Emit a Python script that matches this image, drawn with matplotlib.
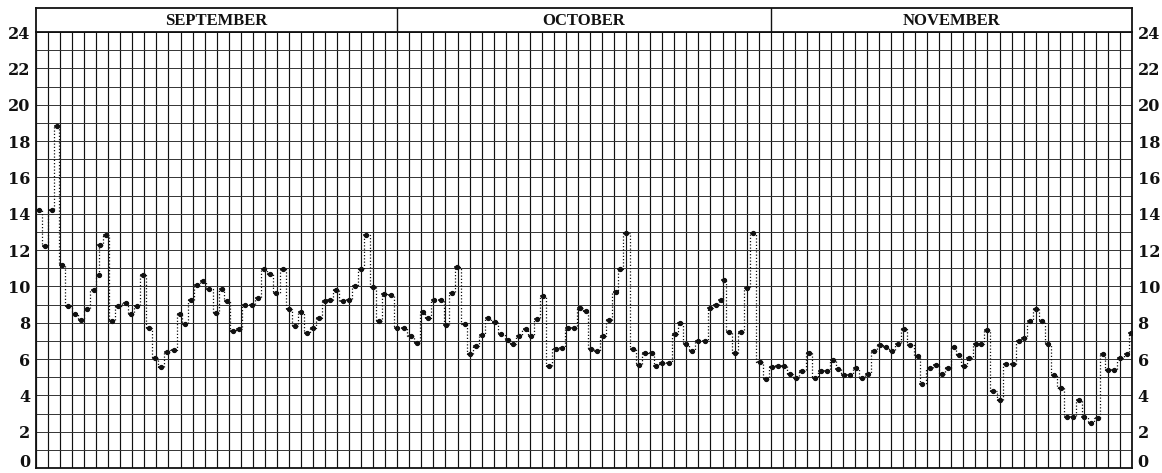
import numpy as np
import matplotlib.pyplot as plt
from matplotlib.ticker import MultipleLocator, FuncFormatter

# months shown across the sheet and their lengths in days
months = ['SEPTEMBER', 'OCTOBER', 'NOVEMBER']
month_days = [30, 31, 30]

# observation times (days since Sept 1, 0 h) and readings
obs_day = [
    # September
    0.25, 0.75, 1.3, 1.77, 2.13, 2.68, 3.24, 3.73, 4.2, 4.84,
    5.2, 5.3, 5.8, 6.28, 6.83, 7.44, 7.86, 8.36, 8.9, 9.4,
    9.88, 10.37, 10.85, 11.45, 11.95, 12.37, 12.86, 13.34, 13.88, 14.38,
    14.94, 15.41, 15.83, 16.32, 16.87, 17.35, 17.95, 18.45, 18.92, 19.42,
    19.92, 20.52, 21.02, 21.5, 22.0, 22.47, 23.0, 23.5, 24.0, 24.4,
    24.9, 25.45, 26.0, 26.47, 26.97, 27.44, 27.99, 28.5, 28.9, 29.5,
    29.94,
    # October
    30.56, 31.1, 31.6, 32.1, 32.55, 33.05, 33.6, 34.07, 34.58, 34.99,
    35.6, 36.0, 36.57, 37.03, 37.5, 38.1, 38.65, 39.15, 39.6, 40.1,
    40.66, 41.1, 41.6, 42.1, 42.6, 43.15, 43.7, 44.17, 44.67, 45.15,
    45.64, 46.1, 46.6, 47.08, 47.58, 48.13, 48.5, 49.0, 49.6, 50.07,
    50.6, 51.15, 51.5, 52.0, 52.56, 53.03, 53.5, 54.0, 54.46, 55.0,
    55.57, 56.0, 56.5, 56.9, 57.1, 57.5, 58.0, 58.5, 59.06, 59.5,
    60.1, 60.6,
    # November
    61.1, 61.6, 62.1, 62.6, 63.1, 63.6, 64.2, 64.65, 65.15, 65.7,
    66.2, 66.6, 67.1, 67.6, 68.1, 68.6, 69.1, 69.6, 70.1, 70.6,
    71.1, 71.55, 72.05, 72.6, 73.2, 73.6, 74.2, 74.7, 75.2, 75.7,
    76.2, 76.6, 77.05, 77.5, 78.05, 78.5, 79.0, 79.5, 80.05, 80.55,
    81.1, 81.6, 82.05, 82.5, 83.0, 83.5, 84.0, 84.5, 85.1, 85.6,
    86.1, 86.6, 87.05, 87.6, 88.15, 88.56, 88.98, 89.54, 90.04, 90.57,
    90.9,
]
obs_value = [
    # September
    14.2, 12.2, 14.2, 18.8, 11.2, 8.9, 8.5, 8.15, 8.75, 9.8,
    10.6, 12.3, 12.8, 8.1, 8.9, 9.1, 8.5, 8.9, 10.6, 7.7,
    6.05, 5.55, 6.4, 6.5, 8.5, 7.95, 9.25, 10.1, 10.3, 9.85,
    8.55, 9.85, 9.2, 7.55, 7.65, 8.95, 9.0, 9.35, 10.95, 10.7,
    9.65, 10.95, 8.75, 7.8, 8.6, 7.45, 7.7, 8.25, 9.2, 9.25,
    9.8, 9.2, 9.25, 10.0, 10.95, 12.85, 9.95, 8.1, 9.6, 9.55,
    7.7,
    # October
    7.7, 7.25, 6.9, 8.6, 8.25, 9.25, 9.25, 7.85, 9.65, 11.05,
    7.95, 6.3, 6.7, 7.3, 8.25, 8.05, 7.4, 7.05, 6.8, 7.25,
    7.65, 7.25, 8.2, 9.45, 5.6, 6.55, 6.6, 7.7, 7.7, 8.8,
    8.65, 6.55, 6.45, 7.25, 8.15, 9.7, 10.95, 12.95, 6.55, 5.65,
    6.35, 6.35, 5.6, 5.8, 5.8, 7.4, 8.0, 6.8, 6.45, 7.0,
    7.0, 8.8, 9.0, 9.25, 10.35, 7.5, 6.35, 7.5, 9.9, 12.95,
    5.85, 4.9,
    # November
    5.55, 5.6, 5.6, 5.15, 4.95, 5.35, 6.35, 4.95, 5.35, 5.35,
    5.95, 5.45, 5.1, 5.1, 5.5, 4.95, 5.2, 6.45, 6.75, 6.65,
    6.45, 6.8, 7.65, 6.75, 6.15, 4.65, 5.5, 5.65, 5.15, 5.5,
    6.65, 6.2, 5.6, 6.05, 6.8, 6.8, 7.6, 4.25, 3.75, 5.7,
    5.75, 7.0, 7.15, 8.1, 8.75, 8.1, 6.85, 5.1, 4.4, 2.8,
    2.8, 3.75, 2.8, 2.5, 2.75, 6.25, 5.4, 5.4, 6.05, 6.3,
    7.45,
]

W, H = 1162, 473
fig = plt.figure(figsize=(W / 100, H / 100), dpi=100)
fig.patch.set_facecolor('white')

total_days = sum(month_days)
ink = '#111111'
num_font = dict(fontfamily='DejaVu Serif', fontweight='bold', fontsize=11.5, color=ink)

# main ruled sheet
ax = fig.add_axes([36 / W, 5 / H, 1096 / W, 436 / H])
ax.set_xlim(0, total_days)
ax.set_ylim(0, 24)
ax.xaxis.set_major_locator(MultipleLocator(1))
ax.yaxis.set_major_locator(MultipleLocator(2))
ax.yaxis.set_minor_locator(MultipleLocator(1))
# zero is written separately so it can sit a bit above the lower edge
ax.yaxis.set_major_formatter(FuncFormatter(lambda v, p: '' if v == 0 else f'{v:.0f}'))
ax.grid(True, axis='x', which='major', color=ink, lw=0.85)
ax.grid(True, axis='y', which='both', color='#333333', lw=0.7)
ax.set_axisbelow(True)
ax.tick_params(axis='x', length=0, labelbottom=False)
ax.tick_params(axis='y', which='both', length=0, left=False, right=False,
               labelleft=True, labelright=True, pad=4)
for lab in ax.get_yticklabels() + ax.yaxis.get_ticklabels(which='major'):
    lab.set_fontfamily('DejaVu Serif')
    lab.set_fontweight('bold')
    lab.set_fontsize(11.5)
    lab.set_color(ink)
for tk in ax.yaxis.get_major_ticks():
    tk.label2.set_fontfamily('DejaVu Serif')
    tk.label2.set_fontweight('bold')
    tk.label2.set_fontsize(11.5)
    tk.label2.set_color(ink)
ax.annotate('0', xy=(0, 0), xycoords='axes fraction', xytext=(-4, 4),
            textcoords='offset points', ha='right', va='center', **num_font)
ax.annotate('0', xy=(1, 0), xycoords='axes fraction', xytext=(4, 4),
            textcoords='offset points', ha='left', va='center', **num_font)
for s in ax.spines.values():
    s.set_color(ink)
    s.set_linewidth(1.3)

# readings: dotted stepped trace with a dot at each observation
ax.plot(obs_day, obs_value, drawstyle='steps-mid', ls=(0, (1, 1.6)),
        color=ink, lw=0.9, zorder=3)
ax.plot(obs_day, obs_value, ls='none', marker='_', ms=5, mew=1.1,
        color=ink, zorder=4)
ax.plot(obs_day, obs_value, ls='none', marker='o', ms=2.8,
        color=ink, mec=ink, zorder=5)

# month heading strip
hx = fig.add_axes([36 / W, 441 / H, 1096 / W, 24 / H])
hx.set_xlim(0, total_days)
hx.set_ylim(0, 1)
hx.set_xticks([])
hx.set_yticks([])
for s in hx.spines.values():
    s.set_color(ink)
    s.set_linewidth(1.3)
start = 0
for name, n in zip(months, month_days):
    hx.text(start + n / 2, 0.45, name, ha='center', va='center',
            fontfamily='Liberation Serif', fontweight='bold', fontsize=12,
            color=ink)
    if start > 0:
        hx.axvline(start, color=ink, lw=1.0)
    start += n

fig.savefig('out.png', dpi=100, facecolor='white')
